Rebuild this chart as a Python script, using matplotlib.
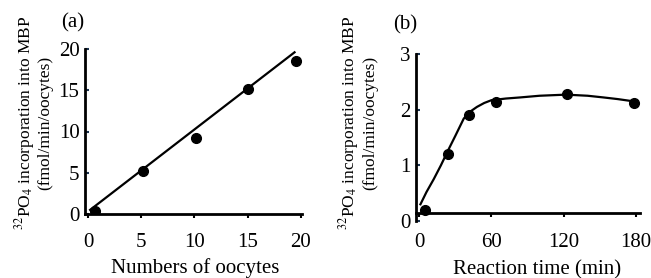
import matplotlib
matplotlib.use('Agg')
import matplotlib.pyplot as plt

plt.rcParams['font.family'] = ['Liberation Serif', 'DejaVu Serif']
plt.rcParams['mathtext.fontset'] = 'stix'

# (a) phosphorylation vs number of oocytes
oocytes = [0.7, 5.2, 10.1, 15.0, 19.5]
incorp_a = [0.35, 5.2, 9.2, 15.1, 18.6]
fit_x = [0.2, 19.4]
fit_y = [0.5, 19.6]

# (b) phosphorylation vs reaction time
time_min = [4.7, 23.6, 41.6, 63.6, 122.6, 178.9]
incorp_b = [0.2, 1.2, 1.9, 2.13, 2.29, 2.12]
curve_t = [1, 6, 12, 18, 24, 30, 37, 42, 48, 54, 60, 72, 84, 100, 122, 140, 153, 165, 178]
curve_y = [0.3, 0.52, 0.75, 1.0, 1.27, 1.53, 1.84, 1.96, 2.05, 2.12, 2.17, 2.2, 2.22, 2.25, 2.27, 2.25, 2.22, 2.19, 2.15]

ylab = '$^{32}$PO$_4$ incorporation into MBP\n(fmol/min/oocytes)'
tick_col = '#1c3553'

fig = plt.figure(figsize=(6.51, 2.78), dpi=100)
ax1 = fig.add_axes([85/651, 1-214/278, 217/651, 165/278])
ax2 = fig.add_axes([416/651, 1-221/278, 224/651, 167/278])

ax1.plot(fit_x, fit_y, color='black', lw=1.6)
ax1.plot(oocytes, incorp_a, 'o', color='black', ms=7)
ax1.set_xlim(-0.28, 20.1)
ax1.set_ylim(0, 20)
ax1.set_xticks([0, 5, 10, 15, 20])
ax1.set_yticks([0, 5, 10, 15, 20])
ax1.set_xlabel('Numbers of oocytes', fontsize=15, va='top')
ax1.xaxis.set_label_coords(0.51, -0.27)
ax1.set_ylabel(ylab, fontsize=12.5, linespacing=1.05)
ax1.yaxis.set_label_coords(-0.147, 0.55)
ax1.tick_params(axis='x', pad=11)
fig.text(73/651, 1-23/278, '(a)', fontsize=15, ha='center', va='center')

ax2.plot(curve_t, curve_y, color='black', lw=1.6)
ax2.plot(time_min, incorp_b, 'o', color='black', ms=7)
ax2.set_xlim(-2.7, 183.5)
ax2.set_ylim(0, 3)
ax2.spines['bottom'].set_position(('data', 0.15))
ax2.set_xticks([0, 60, 120, 180])
ax2.set_yticks([0, 1, 2, 3])
ax2.set_xlabel('Reaction time (min)', fontsize=15, va='top')
ax2.xaxis.set_label_coords(0.54, -0.233)
ax2.set_ylabel(ylab, fontsize=12.5, linespacing=1.05)
ax2.yaxis.set_label_coords(-0.17, 0.587)
ax2.tick_params(axis='x', pad=12)
fig.text(405/651, 1-25/278, '(b)', fontsize=15, ha='center', va='center')

for ax in (ax1, ax2):
    for s in ('top', 'right'):
        ax.spines[s].set_visible(False)
    for s in ('left', 'bottom'):
        ax.spines[s].set_linewidth(2)
    ax.tick_params(axis='y', direction='in', length=3, width=1.5, color=tick_col, labelsize=15, pad=4)
    ax.tick_params(axis='x', direction='out', length=3, width=1.5, labelsize=15)

fig.savefig('out.png', dpi=100)
